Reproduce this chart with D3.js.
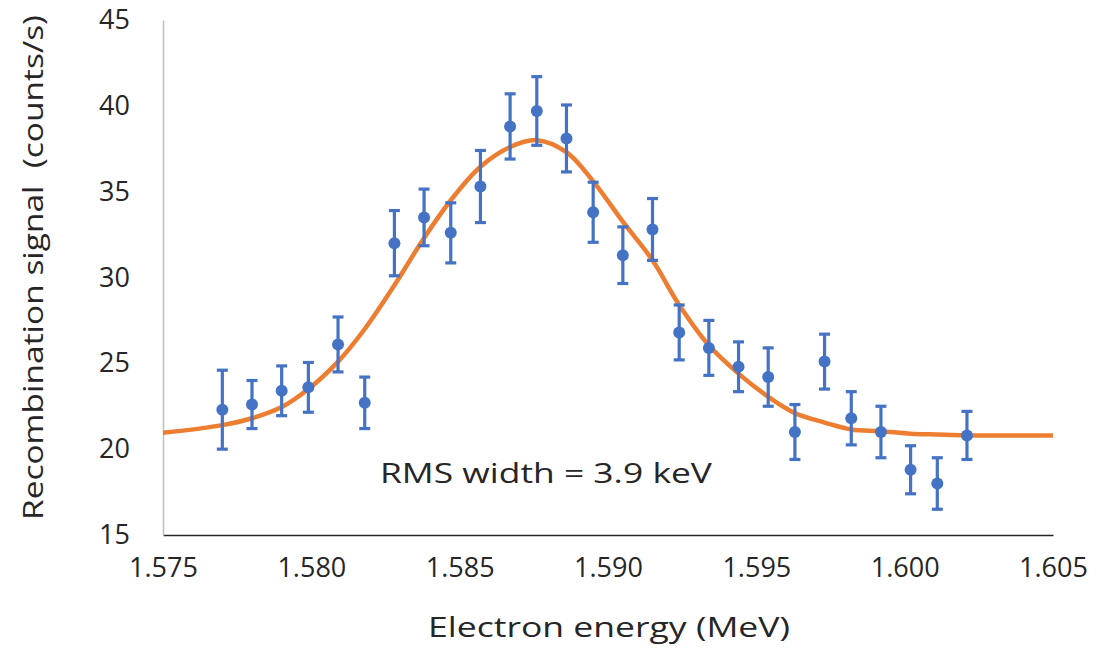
<!DOCTYPE html>
<html>
<head>
<meta charset="utf-8">
<title>Recombination signal</title>
<script src="https://cdn.jsdelivr.net/npm/d3@7"></script>
<style>
  body { margin: 0; background: #fff; }
  text { font-family: "Open Sans", Lato, sans-serif; fill: #262626; }
</style>
</head>
<body>
<script>
// measured points (MeV, counts/s, +/- error)
var energy = [1.5770, 1.5780, 1.5790, 1.5799, 1.5809, 1.5818, 1.5828, 1.5838, 1.5847, 1.5857,
              1.5867, 1.5876, 1.5886, 1.5895, 1.5905, 1.5915, 1.5924, 1.5934, 1.5944, 1.5954,
              1.5963, 1.5973, 1.5982, 1.5992, 1.6002, 1.6011, 1.6021];
var signal = [22.3, 22.6, 23.4, 23.6, 26.1, 22.7, 32.0, 33.5, 32.6, 35.3,
              38.8, 39.7, 38.1, 33.8, 31.3, 32.8, 26.8, 25.9, 24.8, 24.2,
              21.0, 25.1, 21.8, 21.0, 18.8, 18.0, 20.8];
var err    = [2.3, 1.4, 1.45, 1.45, 1.6, 1.5, 1.9, 1.65, 1.75, 2.1,
              1.9, 2.0, 1.95, 1.75, 1.65, 1.8, 1.6, 1.6, 1.45, 1.7,
              1.6, 1.6, 1.55, 1.5, 1.4, 1.5, 1.4];

// fitted curve
var fitEnergy = [1.5750].concat(energy).concat([1.6050]);
var fitSignal = [20.95, 21.4, 21.8, 22.45, 23.5, 25.1, 27.0, 29.55, 32.3, 34.5, 36.45,
                 37.6, 38.0, 37.3, 35.6, 33.25, 31.0, 28.4, 26.05, 24.4, 23.05,
                 22.1, 21.55, 21.15, 21.05, 20.9, 20.85, 20.8, 20.8];

var xTicks = [1.575, 1.580, 1.585, 1.590, 1.595, 1.600, 1.605];
var yTicks = [15, 20, 25, 30, 35, 40, 45];

var W = 1101, H = 653;
var margin = {top: 20, right: 48, bottom: 118, left: 163};

var svg = d3.select("body").append("svg")
    .attr("width", W)
    .attr("height", H);

var x = d3.scaleLinear().domain([1.575, 1.605]).range([margin.left, W - margin.right]);
var y = d3.scaleLinear().domain([15, 45]).range([H - margin.bottom, margin.top]);

// axes
var xAxis = svg.append("g")
    .attr("transform", "translate(0," + y(15) + ")")
    .call(d3.axisBottom(x).tickValues(xTicks).tickFormat(d3.format(".3f")).tickSize(0).tickPadding(23));
xAxis.select(".domain").attr("stroke", "#262626").attr("stroke-width", 1.5);
xAxis.selectAll("text").attr("font-size", 27).attr("fill", "#262626");

var yAxis = svg.append("g")
    .attr("transform", "translate(" + x(1.575) + ",0)")
    .call(d3.axisLeft(y).tickValues(yTicks).tickSize(0).tickPadding(33));
yAxis.select(".domain").attr("stroke", "#bfbfbf").attr("stroke-width", 1.5);
yAxis.selectAll("text").attr("font-size", 27).attr("fill", "#262626");

// fit curve
var line = d3.line()
    .x(function (d, i) { return x(fitEnergy[i]); })
    .y(function (d) { return y(d); })
    .curve(d3.curveCatmullRom.alpha(0.5));
svg.append("path")
    .datum(fitSignal)
    .attr("d", line)
    .attr("fill", "none")
    .attr("stroke", "#ED7D31")
    .attr("stroke-width", 4.5);

// error bars + points
var pts = svg.append("g").selectAll("g")
    .data(signal)
    .enter().append("g");
pts.append("line")
    .attr("x1", function (d, i) { return x(energy[i]); })
    .attr("x2", function (d, i) { return x(energy[i]); })
    .attr("y1", function (d, i) { return y(d - err[i]); })
    .attr("y2", function (d, i) { return y(d + err[i]); })
    .attr("stroke", "#4472C4").attr("stroke-width", 3.2);
[-1, 1].forEach(function (s) {
    pts.append("line")
        .attr("x1", function (d, i) { return x(energy[i]) - 5.5; })
        .attr("x2", function (d, i) { return x(energy[i]) + 5.5; })
        .attr("y1", function (d, i) { return y(d + s * err[i]); })
        .attr("y2", function (d, i) { return y(d + s * err[i]); })
        .attr("stroke", "#4472C4").attr("stroke-width", 3.2);
});
pts.append("circle")
    .attr("cx", function (d, i) { return x(energy[i]); })
    .attr("cy", function (d) { return y(d); })
    .attr("r", 6)
    .attr("fill", "#4472C4");

// annotation
svg.append("text")
    .attr("x", 380).attr("y", 483)
    .attr("font-size", 28)
    .attr("textLength", 332)
    .attr("lengthAdjust", "spacingAndGlyphs")
    .text("RMS width = 3.9 keV");

// axis titles
svg.append("text")
    .attr("x", 428).attr("y", 637)
    .attr("font-size", 28)
    .attr("textLength", 362)
    .attr("lengthAdjust", "spacingAndGlyphs")
    .text("Electron energy (MeV)");

svg.append("text")
    .attr("transform", "translate(43,520) rotate(-90)")
    .attr("font-size", 28)
    .attr("textLength", 505)
    .attr("lengthAdjust", "spacingAndGlyphs")
    .style("white-space", "pre")
    .text("Recombination signal  (counts/s)");
</script>
</body>
</html>
